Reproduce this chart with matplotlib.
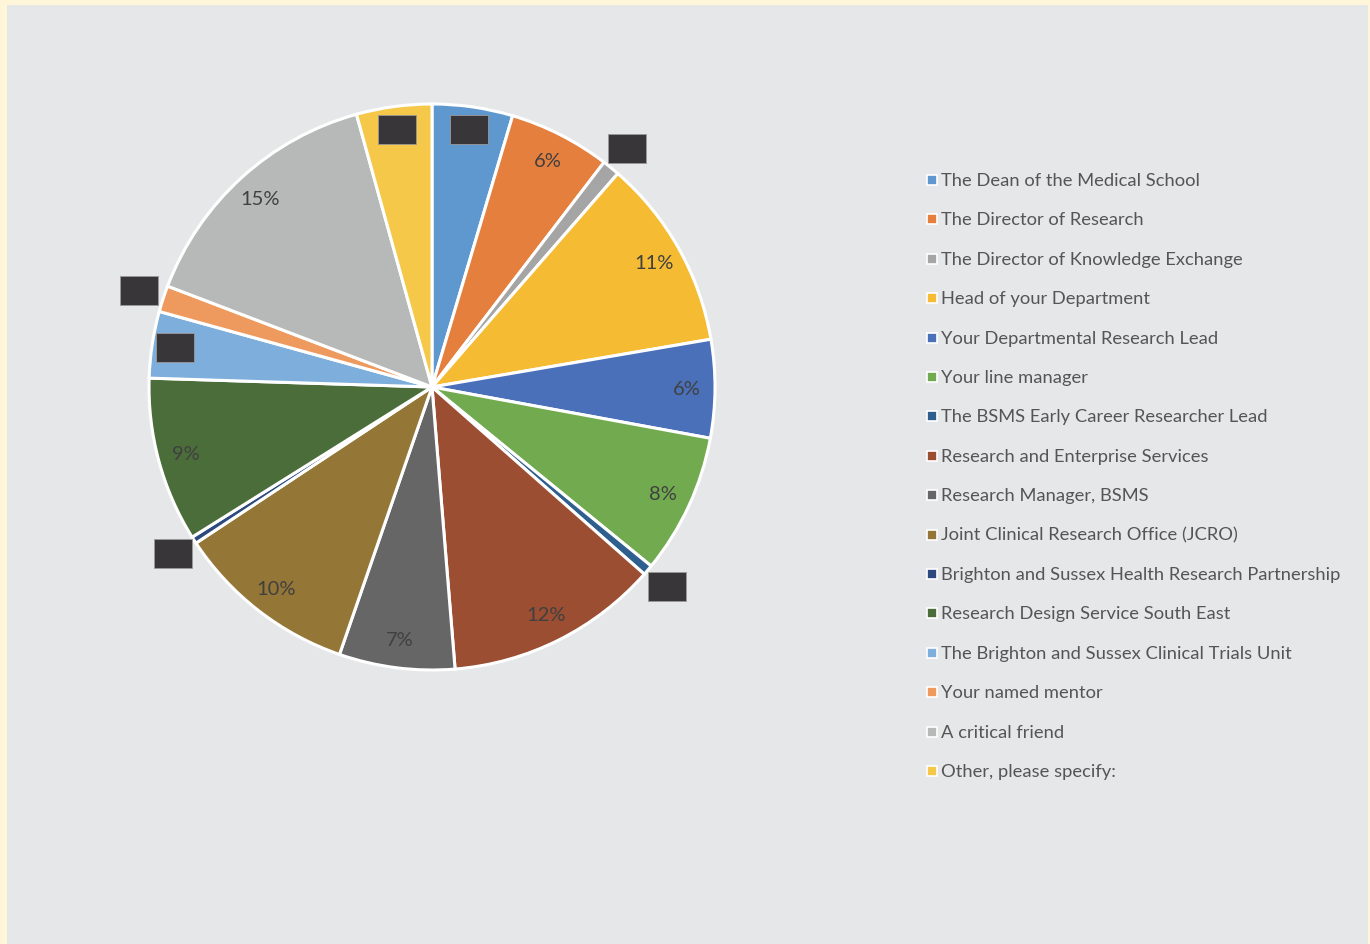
import numpy as np
import matplotlib.pyplot as plt
from matplotlib.patches import Rectangle

# who respondents would approach (share of responses, %)
sources = [
    "The Dean of the Medical School",
    "The Director of Research",
    "The Director of Knowledge Exchange",
    "Head of your Department",
    "Your Departmental Research Lead",
    "Your line manager",
    "The BSMS Early Career Researcher Lead",
    "Research and Enterprise Services",
    "Research Manager, BSMS",
    "Joint Clinical Research Office (JCRO)",
    "Brighton and Sussex Health Research Partnership",
    "Research Design Service South East",
    "The Brighton and Sussex Clinical Trials Unit",
    "Your named mentor",
    "A critical friend",
    "Other, please specify:",
]
shares = [4.6, 5.8, 1.0, 10.9, 5.6, 8.0, 0.6, 12.2, 6.6, 10.4, 0.4, 9.4, 3.8, 1.5, 14.9, 4.3]
# labels that were blacked out in the published figure
hidden = [True, False, True, False, False, False, True, False,
          False, False, True, False, True, True, False, True]

colors = ["#5F98CF", "#E57F3E", "#A5A5A5", "#F5BB33", "#4A70BA", "#72AB4F",
          "#2E5F8E", "#9B4E31", "#666666", "#947636", "#2C4A7D", "#4B6D3A",
          "#7EAEDB", "#EE9A5F", "#B7B8B8", "#F6C84A"]

W, H = 1370, 945
font = "Lato"

fig = plt.figure(figsize=(W / 100, H / 100), dpi=100)
fig.patch.set_facecolor("#FFF5D8")
# grey chart area inside the pale frame
fig.patches.append(Rectangle((7 / W, 0), (1368 - 7) / W, (H - 6) / H,
                             transform=fig.transFigure, facecolor="#E6E7E9",
                             edgecolor="none", zorder=-10))

# pie axes: radius 1 == 283 px, centre at (432, 388) px from top-left
R = 283
lim = 1.35
side = 2 * lim * R
cx, cy = 432, H - 388
ax = fig.add_axes([(cx - side / 2) / W, (cy - side / 2) / H, side / W, side / H])
ax.set_aspect("equal")
ax.axis("off")
ax.set_zorder(1)

wedges, _ = ax.pie(shares, colors=colors, startangle=90, counterclock=False,
                   radius=1.0, wedgeprops=dict(edgecolor="white", linewidth=2.2))
ax.set_xlim(-lim, lim)
ax.set_ylim(-lim, lim)

bw, bh = 38 / R, 29 / R
for w, val, hid in zip(wedges, shares, hidden):
    mid = np.deg2rad((w.theta1 + w.theta2) / 2)
    if not hid:
        ax.text(0.9 * np.cos(mid), 0.9 * np.sin(mid), f"{round(val):.0f}%",
                ha="center", va="center", fontsize=14.5, color="#404040",
                family=font)
    else:
        # narrow slices get their (blacked out) label outside the pie
        r = 0.92 if val > 3 else 1.09
        x, y = r * np.cos(mid), r * np.sin(mid)
        ax.add_patch(Rectangle((x - bw / 2, y - bh / 2), bw, bh,
                               facecolor="#383638", edgecolor="#9a9a9a",
                               linewidth=0.6, zorder=5, clip_on=False))

# legend on the right
y0, dy = 181, 39.4
for i, (lab, col) in enumerate(zip(sources, colors)):
    y = H - (y0 + i * dy)
    fig.patches.append(Rectangle((927 / W, (y - 5) / H), 10 / W, 10 / H,
                                 transform=fig.transFigure, facecolor=col,
                                 edgecolor="white", linewidth=1.2, zorder=3))
    fig.text(941 / W, y / H, lab, ha="left", va="center", fontsize=13.2,
             color="#555555", family=font)

fig.savefig("out.png", dpi=100, facecolor=fig.get_facecolor())
